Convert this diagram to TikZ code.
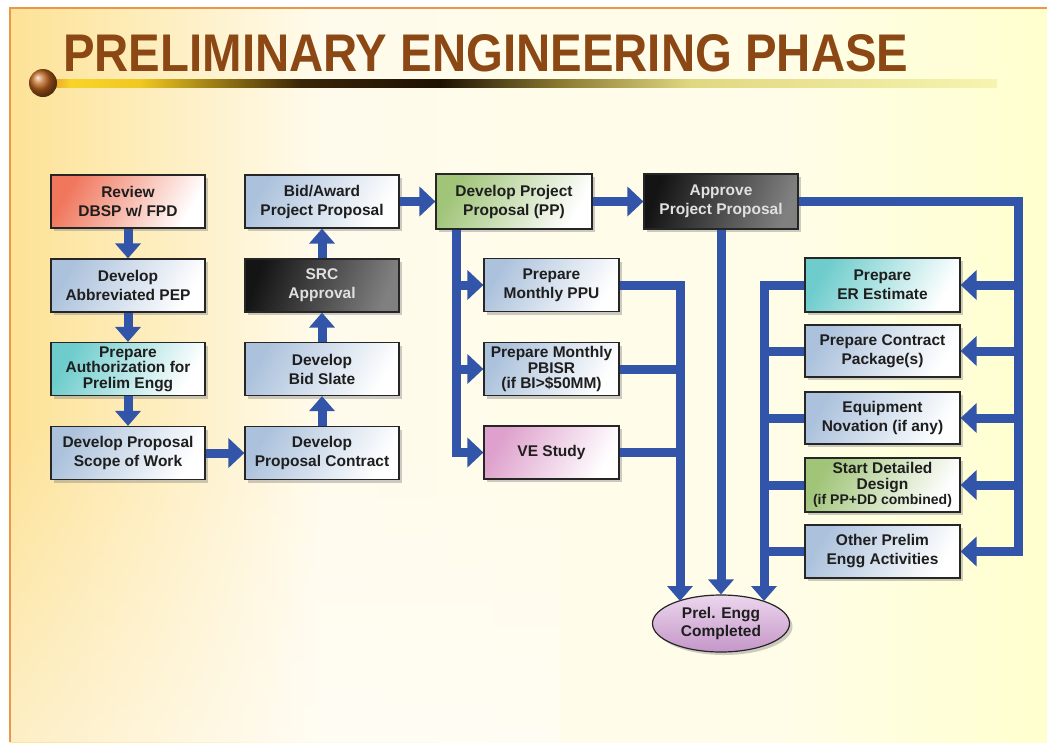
\documentclass[tikz,border=0pt]{standalone}
\usepackage{fontspec}
\usepackage{graphicx}
\setmainfont{Liberation Sans}
\usetikzlibrary{arrows.meta,shapes.geometric,shadows,fadings}

\definecolor{flowblue}{RGB}{50,85,170}
\definecolor{titlebrown}{RGB}{140,72,20}
\definecolor{frameorange}{RGB}{232,152,72}
\definecolor{bgL}{RGB}{253,226,150}
\definecolor{bgM}{RGB}{255,251,236}
\definecolor{bgMM}{RGB}{255,253,232}
\definecolor{bgR}{RGB}{255,255,206}
\definecolor{steel}{RGB}{172,194,220}
\definecolor{salmon}{RGB}{240,118,92}
\definecolor{aqua}{RGB}{110,204,204}
\definecolor{sage}{RGB}{160,196,120}
\definecolor{orchid}{RGB}{222,160,204}
\definecolor{lavtop}{RGB}{236,214,238}
\definecolor{lavbot}{RGB}{196,150,200}
\definecolor{boxtext}{RGB}{30,30,30}
\definecolor{ballbrown}{RGB}{190,100,30}

\pgfdeclarehorizontalshading{backdrop}{100bp}{color(0bp)=(bgL); color(25bp)=(bgL); color(40bp)=(bgM); color(62bp)=(bgMM); color(75bp)=(bgR); color(100bp)=(bgR)}

\begin{document}
\begin{tikzpicture}[x=1pt,y=-1pt,
  box/.style={draw=black!85, line width=1.2pt, minimum width=154pt, minimum height=53pt,
    inner sep=1pt, align=center, text=boxtext, font=\bfseries\fontsize{15.5}{19}\selectfont,
    drop shadow={shadow xshift=3pt, shadow yshift=-3pt, opacity=0.4}},
  tint/.style={left color=#1, right color=white, shading angle=60},
  darkbox/.style={left color=black!92, right color=black!50, shading angle=70, text=black!12},
  narrow/.style={minimum width=135pt},
  tight/.style={font=\bfseries\fontsize{15.5}{15.5}\selectfont},
  flow/.style={draw=flowblue, line width=9pt},
  headv/.style={-{Triangle[width=25pt,length=15pt]}},
  headh/.style={-{Triangle[width=29pt,length=16pt]}},
]
\useasboundingbox (0,0) rectangle (1047,742);

% backdrop and frame
\fill[white] (0,0) rectangle (1047,742);
\shade[shading=backdrop] (10,8) rectangle (1047,742);
\fill[white, opacity=0.45, path fading=north] (10,430) rectangle (560,742);
\draw[frameorange, line width=1.5pt] (1047,8) -- (10,8) -- (10,742);

% title and its rule
\node[anchor=south west, inner sep=0pt, text=titlebrown] (title) at (63,72)
  {\resizebox{845pt}{37pt}{\bfseries PRELIMINARY ENGINEERING PHASE}};
\shade[left color={rgb,255:red,232;green,150;blue,48}, right color={rgb,255:red,248;green,212;blue,40}] (47,79) rectangle (70.5,87);
\shade[left color={rgb,255:red,248;green,212;blue,40}, right color={rgb,255:red,240;green,200;blue,32}] (70,79) rectangle (140.5,87);
\shade[left color={rgb,255:red,240;green,200;blue,32}, right color={rgb,255:red,58;green,38;blue,8}] (140,79) rectangle (300.5,87);
\shade[left color={rgb,255:red,58;green,38;blue,8}, right color={rgb,255:red,30;green,18;blue,4}] (300,79) rectangle (440.5,87);
\shade[left color={rgb,255:red,30;green,18;blue,4}, right color={rgb,255:red,138;green,122;blue,48}] (440,79) rectangle (560.5,87);
\shade[left color={rgb,255:red,138;green,122;blue,48}, right color={rgb,255:red,224;green,216;blue,128}] (560,79) rectangle (690.5,87);
\shade[left color={rgb,255:red,224;green,216;blue,128}, right color={rgb,255:red,246;green,244;blue,176}] (690,79) rectangle (997,87);
\shade[ball color=ballbrown] (43,83) circle (14pt);

% left column
\node[box, tint=salmon] (review) at (128,201.5) {Review\\DBSP w/ FPD};
\node[box, tint=steel]  (pep)    at (128,285.5) {Develop\\Abbreviated PEP};
\node[box, tint=aqua, tight] (auth) at (128,369) {Prepare\\Authorization for\\Prelim Engg};
\node[box, tint=steel]  (scope)  at (128,453) {Develop Proposal\\Scope of Work};

% second column
\node[box, tint=steel]  (bid)      at (322,201.5) {Bid/Award\\Project Proposal};
\node[box, darkbox]     (src)      at (322,285.5) {SRC\\Approval};
\node[box, tint=steel]  (slate)    at (322,369) {Develop\\Bid Slate};
\node[box, tint=steel]  (contract) at (322,453) {Develop\\Proposal Contract};

% top row
\node[box, tint=sage, minimum width=156pt, minimum height=55pt] (dpp) at (514,201.5) {Develop Project\\Proposal (PP)};
\node[box, darkbox, minimum height=55pt] (approve) at (721,201.5) {Approve\\Project Proposal};

% reporting column
\node[box, tint=steel, narrow] (ppu)   at (551.5,285) {Prepare\\Monthly PPU};
\node[box, tint=steel, narrow, tight] (pbisr) at (551.5,369) {Prepare Monthly\\PBISR\\(if BI>\$50MM)};
\node[box, tint=orchid, narrow] (ve)   at (551.5,452.5) {VE Study};

% right column
\node[box, tint=aqua, minimum width=155pt, minimum height=54pt]  (er)     at (882.5,285) {Prepare\\ER Estimate};
\node[box, tint=steel, minimum width=155pt, minimum height=52pt] (pkg)    at (882.5,351) {Prepare Contract\\Package(s)};
\node[box, tint=steel, minimum width=155pt, minimum height=52pt] (nov)    at (882.5,418) {Equipment\\Novation (if any)};
\node[box, tint=sage, minimum width=155pt, minimum height=54pt, tight] (design) at (882.5,485)
  {Start Detailed\\Design\\{\fontsize{14}{15.5}\selectfont(if PP+DD combined)}};
\node[box, tint=steel, minimum width=155pt, minimum height=53pt] (other)  at (882.5,551.5) {Other Prelim\\Engg Activities};

% end state
\node[ellipse, draw=black!85, line width=1.2pt, minimum width=137pt, minimum height=57pt, inner sep=0pt,
  top color=lavtop, bottom color=lavbot, align=center, text=boxtext,
  font=\bfseries\fontsize{15.5}{18}\selectfont,
  drop shadow={shadow xshift=3pt, shadow yshift=-3pt, opacity=0.4}] (done) at (721,623.5) {Prel. Engg\\Completed};

% trunk positions
\coordinate (bx) at (456,0);
\coordinate (cx) at (680,0);
\coordinate (lx) at (764,0);
\coordinate (rx) at (1018,0);
\coordinate (inL) at (680,601);
\coordinate (inR) at (764,601);

% sequential flow
\draw[flow, headv] (review) -- (pep);
\draw[flow, headv] (pep) -- (auth);
\draw[flow, headv] (auth) -- (scope);
\draw[flow, headh] (scope) -- (contract);
\draw[flow, headv] (contract) -- (slate);
\draw[flow, headv] (slate) -- (src);
\draw[flow, headv] (src) -- (bid);
\draw[flow, headh] (bid) -- (dpp);
\draw[flow, headh] (dpp) -- (approve);

% reporting branch
\draw[flow, headh] (dpp.south -| bx) |- (ve.west);
\foreach \n in {ppu,pbisr} \draw[flow, headh] (bx |- \n.west) -- (\n.west);
\draw[flow, headv] (ppu.east) -| (inL);
\foreach \n in {pbisr,ve} \draw[flow] (\n.east) -- (cx |- \n.east);

% approval to completion
\draw[flow, headv] (approve) -- (done);

% approval fan-out
\draw[flow, headh] (approve.east) -| (rx |- other.east) -- (other.east);
\foreach \n in {er,pkg,nov,design} \draw[flow, headh] (rx |- \n.east) -- (\n.east);
\draw[flow, headv] (er.west) -| (inR);
\foreach \n in {pkg,nov,design,other} \draw[flow] (\n.west) -- (lx |- \n.west);
\end{tikzpicture}
\end{document}
